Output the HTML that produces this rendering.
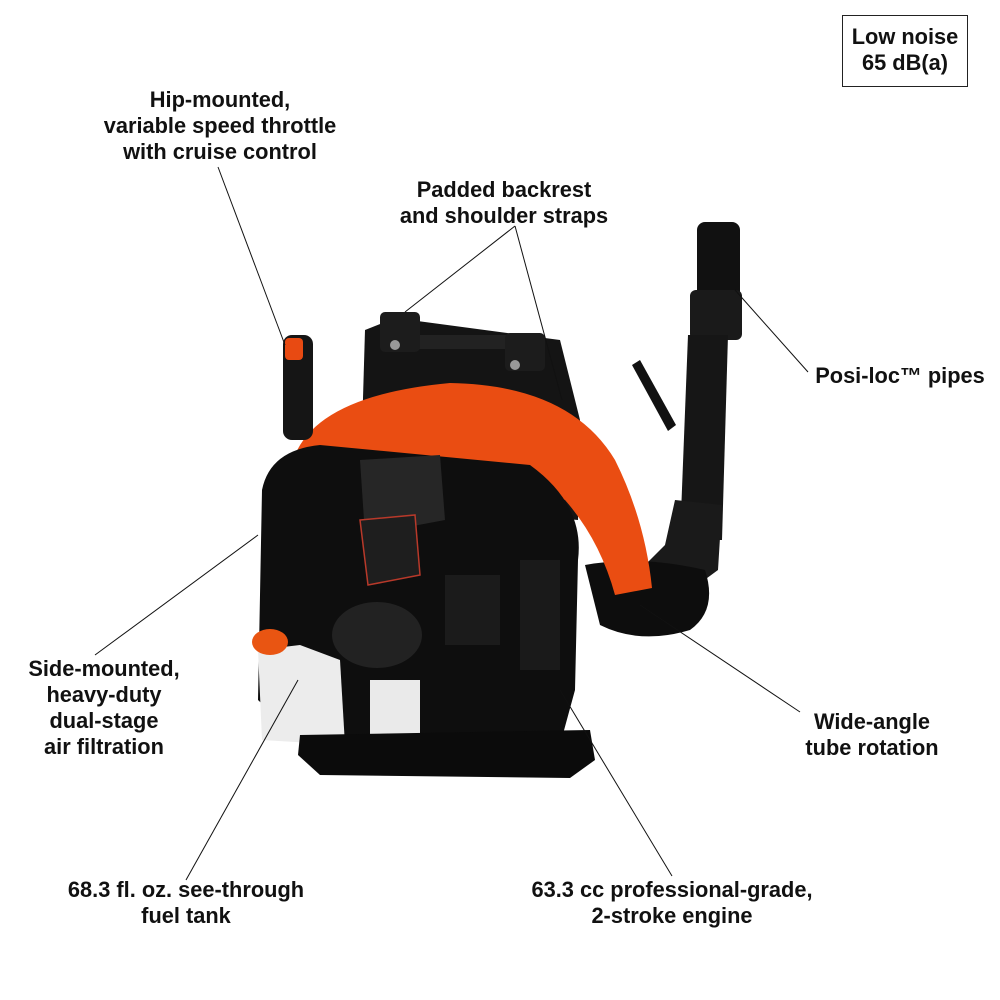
<!DOCTYPE html>
<html><head><meta charset="utf-8"><style>
body{margin:0;width:1000px;height:1000px;background:#fff;overflow:hidden;position:relative;font-family:"Liberation Sans",sans-serif;}
.t{position:absolute;font-weight:bold;font-size:21.8px;line-height:26px;text-align:center;color:#111;white-space:nowrap;transform:translateX(-50%);}
svg{position:absolute;left:0;top:0}
</style></head><body>
<svg width="1000" height="1000" viewBox="0 0 1000 1000">
<!-- backpack frame -->
<path d="M365,330 L395,318 L560,340 L580,420 L578,520 L360,500 Z" fill="#141414"/>
<rect x="400" y="335" width="120" height="14" rx="6" fill="#222"/>
<rect x="380" y="312" width="40" height="40" rx="5" fill="#1c1c1c"/>
<rect x="505" y="333" width="40" height="38" rx="5" fill="#1c1c1c"/>
<circle cx="395" cy="345" r="5" fill="#999"/><circle cx="515" cy="365" r="5" fill="#999"/>
<!-- pipe -->
<rect x="697" y="222" width="43" height="100" rx="8" fill="#111"/>
<rect x="690" y="290" width="52" height="50" rx="6" fill="#1a1a1a"/>
<path d="M688,335 L728,335 L722,540 L680,540 Z" fill="#161616"/>
<path d="M632,365 L640,360 L676,425 L668,431 Z" fill="#111"/>
<path d="M675,500 L722,505 L718,570 L650,620 L610,600 L665,545 Z" fill="#1a1a1a"/>
<path d="M585,565 Q640,555 705,570 Q718,610 690,630 Q640,645 600,625 Z" fill="#0d0d0d"/>
<!-- orange shroud -->
<path d="M295,455 Q320,395 450,383 Q570,385 615,460 Q645,520 652,588 L615,595 Q600,540 565,500 Q470,450 330,455 Z" fill="#ea4d12"/>
<!-- handle -->
<rect x="283" y="335" width="30" height="105" rx="9" fill="#151515"/>
<rect x="285" y="338" width="18" height="22" rx="4" fill="#e84a12"/>
<!-- body -->
<path d="M262,490 Q270,450 320,445 L530,465 Q585,505 578,560 L575,690 L560,745 L300,740 L258,700 Z" fill="#0e0e0e"/>
<path d="M360,460 L440,455 L445,520 L365,535 Z" fill="#262626"/>
<path d="M360,520 L415,515 L420,575 L368,585 Z" fill="#1e1e1e" stroke="#b8392a" stroke-width="1.5"/>
<ellipse cx="377" cy="635" rx="45" ry="33" fill="#222"/>
<rect x="445" y="575" width="55" height="70" fill="#1b1b1b"/>
<rect x="520" y="560" width="40" height="110" fill="#1a1a1a"/>
<!-- fuel tank -->
<path d="M258,650 L300,645 L340,660 L345,745 L262,740 Z" fill="#ececec"/>
<path d="M370,680 L420,680 L420,745 L370,745 Z" fill="#eaeaea"/>
<ellipse cx="270" cy="642" rx="18" ry="13" fill="#e95512"/>
<!-- base -->
<path d="M300,735 L590,730 L595,760 L570,778 L320,775 L298,755 Z" fill="#0b0b0b"/>
<!-- leader lines -->
<g stroke="#111" stroke-width="1" fill="none">
<line x1="218" y1="167" x2="285" y2="345"/>
<line x1="515" y1="226" x2="405" y2="312"/>
<line x1="515" y1="226" x2="562" y2="400"/>
<line x1="808" y1="372" x2="735" y2="290"/>
<line x1="95" y1="655" x2="258" y2="535"/>
<line x1="800" y1="712" x2="640" y2="605"/>
<line x1="186" y1="880" x2="298" y2="680"/>
<line x1="672" y1="876" x2="560" y2="690"/>
</g>
<rect x="842.5" y="15.5" width="125" height="71" fill="none" stroke="#222" stroke-width="1"/>
</svg>
<div class="t" style="left:905px;top:24px">Low noise<br>65 dB(a)</div>
<div class="t" style="left:220px;top:87px">Hip-mounted,<br>variable speed throttle<br>with cruise control</div>
<div class="t" style="left:504px;top:177px">Padded backrest<br>and shoulder straps</div>
<div class="t" style="left:900px;top:363px">Posi-loc™ pipes</div>
<div class="t" style="left:104px;top:656px">Side-mounted,<br>heavy-duty<br>dual-stage<br>air filtration</div>
<div class="t" style="left:872px;top:709px">Wide-angle<br>tube rotation</div>
<div class="t" style="left:186px;top:877px">68.3 fl. oz. see-through<br>fuel tank</div>
<div class="t" style="left:672px;top:877px">63.3 cc professional-grade,<br>2-stroke engine</div>
</body></html>
